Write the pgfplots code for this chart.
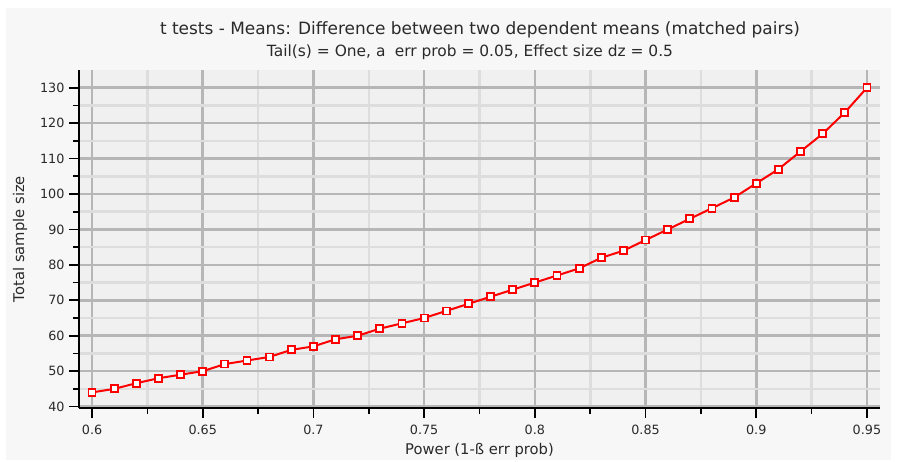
\documentclass[border=0pt]{standalone}
\usepackage{pgfplots}
\pgfplotsset{compat=1.18}
\usepackage{fontspec}
\setmainfont{DejaVu Sans}
\definecolor{panel}{HTML}{F7F7F7}
\definecolor{plotbg}{HTML}{F0F0F0}
\definecolor{gmaj}{HTML}{B6B6B6}
\definecolor{gmin}{HTML}{DDDDDD}
\definecolor{txt}{HTML}{2A2A2A}
\begin{document}
\begin{tikzpicture}
\fill[white] (-79bp,-54bp) rectangle (818bp,408bp);
\fill[panel] (-73bp,-52bp) rectangle (812bp,400bp);
\node[anchor=base, font=\fontsize{17}{20}\selectfont, text=txt] at (401bp,373bp) {t tests - Means: Difference between two dependent means (matched pairs)};
\node[anchor=base, font=\fontsize{15.5}{18}\selectfont, text=txt] at (391bp,351bp) {Tail(s) = One, a\hspace{0.6em}err prob = 0.05, Effect size dz = 0.5};
\begin{axis}[
  at={(0,0)}, anchor=south west,
  scale only axis, width=801bp, height=338bp,
  xmin=0.5941, xmax=0.9559, ymin=39.6, ymax=135,
  axis x line*=bottom, axis y line*=left,
  axis line style={black, line width=1.6bp, -},
  axis background/.style={fill=plotbg},
  xtick={0.6,0.65,0.7,0.75,0.8,0.85,0.9,0.95},
  minor xtick={0.625,0.675,0.725,0.775,0.825,0.875,0.925},
  ytick={40,50,60,70,80,90,100,110,120,130},
  minor ytick={45,55,65,75,85,95,105,115,125},
  xticklabels={0.6,0.65,0.7,0.75,0.8,0.85,0.9,0.95},
  grid=both,
  major grid style={gmaj, line width=2.6bp},
  minor grid style={gmin, line width=2.6bp},
  tick align=outside,
  major tick length=10bp, minor tick length=6bp,
  tick style={black, line width=1.6bp},
  ticklabel style={font=\fontsize{12.8}{14}\selectfont, text=txt},
  xticklabel style={yshift=-4bp},
  yticklabel style={xshift=-1bp},
  /pgf/number format/assume math mode=true,
  xlabel={Power (1-ß err prob)},
  ylabel={Total sample size},
  label style={font=\fontsize{14.8}{17}\selectfont, text=txt},
  xlabel style={at={(axis description cs:0.5,-0.1243)}, anchor=center},
  ylabel style={at={(axis description cs:-0.0737,0.5)}, anchor=center},
  clip=false,
]
\addplot[red, line width=2bp, mark=square*, mark size=3.5bp,
  mark options={fill=white, draw=red, line width=1.8bp, rounded corners=2bp}]
coordinates {
(0.60,44) (0.61,45) (0.62,46.6) (0.63,48) (0.64,49) (0.65,50) (0.66,52) (0.67,53)
(0.68,54) (0.69,56) (0.70,57) (0.71,59) (0.72,60) (0.73,62) (0.74,63.5) (0.75,65)
(0.76,67) (0.77,69) (0.78,71) (0.79,73) (0.80,75) (0.81,77) (0.82,79) (0.83,82)
(0.84,84) (0.85,87) (0.86,90) (0.87,93) (0.88,96) (0.89,99) (0.90,103) (0.91,107)
(0.92,112) (0.93,117) (0.94,123) (0.95,130)
};
\end{axis}
\end{tikzpicture}
\end{document}
